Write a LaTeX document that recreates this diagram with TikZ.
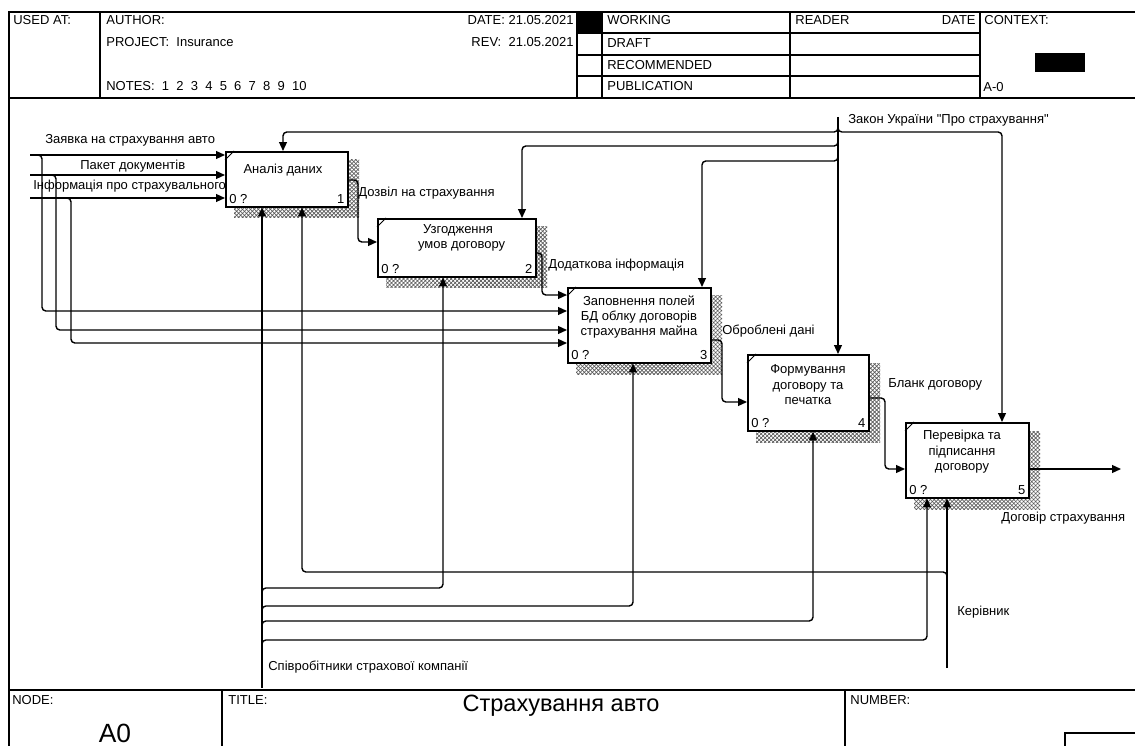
\documentclass[tikz,border=0pt]{standalone}
\usepackage{fontspec}
\setmainfont{Liberation Sans}[Ligatures=TeXOff]
\usetikzlibrary{arrows.meta,patterns.meta}

\begin{document}
\begin{tikzpicture}[x=0.02cm,y=-0.02cm,
  frame/.style={line width=1.1pt},
  thin frame/.style={line width=0.8pt},
  txt/.style={inner sep=0pt,font=\fontsize{7.4}{8.6}\selectfont},
  lbl/.style={txt,anchor=west},
  boxtxt/.style={inner sep=0pt,align=center,font=\fontsize{7.4}{8.8}\selectfont},
  func/.style={draw,line width=0.9pt,fill=white,anchor=north west,inner sep=0pt},
  arr/.style={line width=0.8pt,rounded corners=2.2pt,-{Triangle[length=5pt,width=4.4pt]}},
]
\useasboundingbox (0,0) rectangle (1135,746);

% ---------- header ----------
\draw[frame] (8,12) -- (1135,12);
\draw[frame] (8,98) -- (1135,98);
\draw[line width=1.6pt] (9,12) -- (9,746);
\foreach \xx in {100,577,602,790,980}
  \draw[thin frame] (\xx,12) -- (\xx,98);
\foreach \yy in {33,55,76}
  \draw[thin frame] (577,\yy) -- (980,\yy);
\fill (577,12) rectangle (602,33);
\fill (1035,53) rectangle (1085,72);

\node[lbl] (usedat) at (13,20) {USED AT:};
\node[lbl] (author) at (106,20) {AUTHOR:};
\node[lbl] (project) at (106,42) {PROJECT:\ \ Insurance};
\node[lbl] (notes) at (106,86) {NOTES:\ \ 1\ \ 2\ \ 3\ \ 4\ \ 5\ \ 6\ \ 7\ \ 8\ \ 9\ \ 10};
\node[txt,anchor=east] (date) at (574,20) {DATE: 21.05.2021};
\node[txt,anchor=east] (rev) at (574,42) {REV:\ \ 21.05.2021};
\node[lbl] (working) at (607,20) {WORKING};
\node[lbl] (draft) at (607,43) {DRAFT};
\node[lbl] (recommended) at (607,65) {RECOMMENDED};
\node[lbl] (publication) at (607,86) {PUBLICATION};
\node[lbl] (reader) at (795,20) {READER};
\node[txt,anchor=east] (rdate) at (976,20) {DATE};
\node[lbl] (context) at (984,20) {CONTEXT:};
\node[lbl] (ctxnode) at (983,87) {A-0};

% ---------- footer ----------
\draw[frame] (8,690) -- (1135,690);
\draw[thin frame] (222,690) -- (222,746);
\draw[thin frame] (845,690) -- (845,746);
\draw[thin frame] (1065,746) -- (1065,733) -- (1135,733);
\node[lbl] (nodek) at (12,700) {NODE:};
\node[inner sep=0pt,font=\fontsize{15}{16}\selectfont] (nodev) at (115,733) {A0};
\node[lbl] (titlek) at (228,700) {TITLE:};
\node[inner sep=0pt,font=\fontsize{13.4}{15}\selectfont] (titlev) at (561,706) {Страхування авто};
\node[lbl] (numberk) at (850,700) {NUMBER:};

% ---------- activity boxes (shadow first, then box) ----------
\foreach \l/\t/\r/\b in {225/151/347/206, 377/218/535/276, 567/287/710/362, 747/354/868/430, 905/422/1028/497}{
  \fill[pattern={Lines[angle=45,distance=1.6pt,line width=0.4pt]},pattern color=black!65]
    (\l+9,\t+9) rectangle (\r+12,\b+12);
  \fill[pattern={Lines[angle=-45,distance=1.6pt,line width=0.4pt]},pattern color=black!65]
    (\l+9,\t+9) rectangle (\r+12,\b+12);
}
\node[func,minimum width=122*0.02cm,minimum height=55*0.02cm] (b1) at (225,151) {};
\node[func,minimum width=158*0.02cm,minimum height=58*0.02cm] (b2) at (377,218) {};
\node[func,minimum width=143*0.02cm,minimum height=75*0.02cm] (b3) at (567,287) {};
\node[func,minimum width=121*0.02cm,minimum height=76*0.02cm] (b4) at (747,354) {};
\node[func,minimum width=123*0.02cm,minimum height=75*0.02cm] (b5) at (905,422) {};

\foreach \b/\n in {b1/1,b2/2,b3/3,b4/4,b5/5}{
  \draw[line width=0.5pt] ([yshift=-9*0.02cm]\b.north west) -- ([xshift=9*0.02cm]\b.north west);
  \node[txt,anchor=south west] at ([xshift=4*0.02cm,yshift=4*0.02cm]\b.south west) {0 ?};
  \node[txt,anchor=south east] at ([xshift=-4*0.02cm,yshift=4*0.02cm]\b.south east) {\n};
}
\node[boxtxt] (t1) at (283,170) {Аналіз даних};
\node[boxtxt] (t2) at (458,238) {Узгодження\\\ \ умов договору};
\node[boxtxt] (t3) at (639,317) {Заповнення полей\\БД облку договорів\\страхування майна};
\node[boxtxt] (t4) at (808,385) {Формування\\договору та\\печатка};
\node[boxtxt] (t5) at (962,452) {Перевірка та\\підписання\\договору};

% ---------- inputs ----------
\coordinate (in1) at (30,155);
\coordinate (in2) at (30,175);
\coordinate (in3) at (30,198);
\draw[arr] (in1) -- (in1 -| b1.west);
\draw[arr] (in2) -- (in2 -| b1.west);
\draw[arr] (in3) -- (in3 -| b1.west);
\draw[arr] (in1) -- (42,155) -- (42,311) -- (b3.west |- 0,311);
\draw[arr] (in2) -- (56,175) -- (56,330) -- (b3.west |- 0,330);
\draw[arr] (in3) -- (71,198) -- (71,343) -- (b3.west |- 0,343);
\node[lbl] (l1) at (45,140) {Заявка на страхування авто};
\node[lbl] (l2) at (80,166) {Пакет документів};
\node[lbl] (l3) at (33,186) {Інформація про страхувального};

% ---------- outputs between boxes ----------
\draw[arr] (b1.east |- 0,180) -- (358,180) -- (358,242) -- (b2.west |- 0,242);
\draw[arr] (b2.east |- 0,253) -- (542,253) -- (542,295) -- (b3.west |- 0,295);
\draw[arr] (b3.east |- 0,340) -- (722,340) -- (722,402) -- (b4.west |- 0,402);
\draw[arr] (b4.east |- 0,398) -- (885,398) -- (885,469) -- (b5.west |- 0,469);
\coordinate (out) at (1121,469);
\draw[arr] (b5.east |- 0,469) -- (out);
\node[lbl] (o1) at (358,193) {Дозвіл на страхування};
\node[lbl] (o2) at (548,265) {Додаткова інформація};
\node[lbl] (o3) at (722,331) {Оброблені дані};
\node[lbl] (o4) at (888,384) {Бланк договору};
\node[lbl] (o5) at (1001,518) {Договір страхування};

% ---------- controls ----------
\coordinate (law) at (838,117);
\draw[arr] (law) -- (law |- b4.north);
\draw[arr] (838,124) -- (838,132) -- (283,132) -- (283,0 |- b1.north);
\draw[arr] (838,138) -- (838,146) -- (522,146) -- (522,0 |- b2.north);
\draw[arr] (838,153) -- (838,161) -- (702,161) -- (702,0 |- b3.north);
\draw[arr] (838,124) -- (838,132) -- (1002,132) -- (1002,0 |- b5.north);
\node[lbl] (c1) at (848,120) {Закон України "Про страхування"};

% ---------- mechanisms ----------
\coordinate (staff) at (262,688);
\draw[arr] (staff) -- (staff |- b1.south);
\draw[arr] (262,596) -- (262,588) -- (443,588) -- (443,0 |- b2.south);
\draw[arr] (262,614) -- (262,606) -- (633,606) -- (633,0 |- b3.south);
\draw[arr] (262,629) -- (262,621) -- (813,621) -- (813,0 |- b4.south);
\draw[arr] (262,648) -- (262,640) -- (927,640) -- (927,0 |- b5.south);
\node[lbl] (m1) at (268,667) {Співробітники страхової компанії};

\coordinate (mgr) at (947,668);
\draw[arr] (mgr) -- (mgr |- b5.south);
\draw[arr] (947,580) -- (947,572) -- (302,572) -- (302,0 |- b1.south);
\node[lbl] (m2) at (957,612) {Керівник};
\end{tikzpicture}
\end{document}
